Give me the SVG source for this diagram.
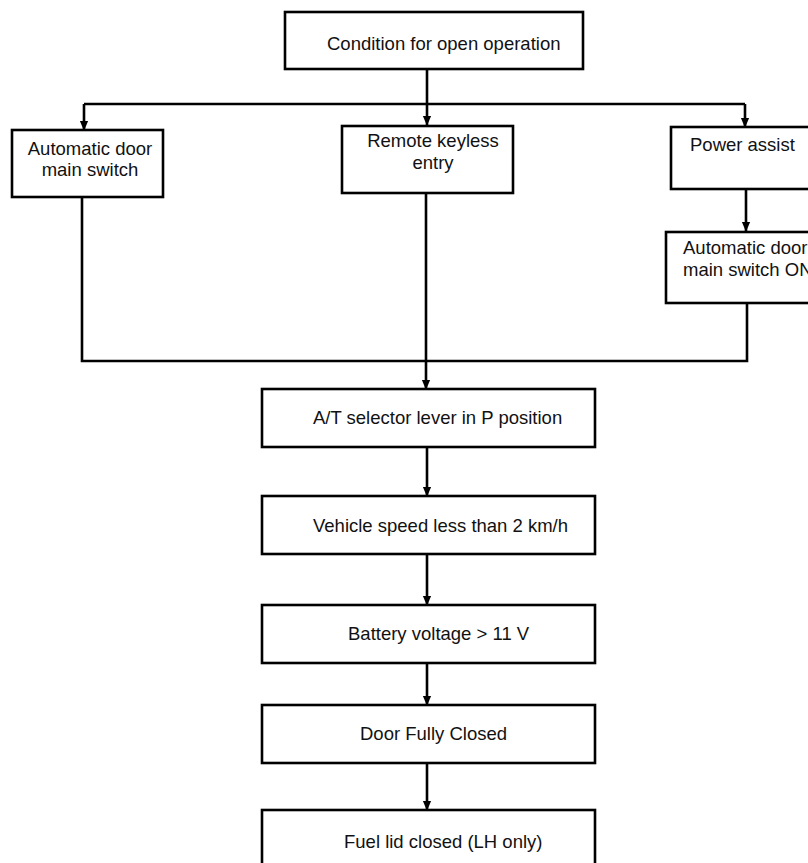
<svg xmlns="http://www.w3.org/2000/svg" width="808" height="863" viewBox="0 0 808 863">
<defs>
<style>
.box{fill:#fff;stroke:#000;stroke-width:2.6}
.t{font-family:"Liberation Sans",Arial,sans-serif;font-size:18.5px;fill:#111}
.c{fill:none;stroke:#000;stroke-width:2.6}
</style>
<marker id="ah" markerUnits="userSpaceOnUse" markerWidth="10" markerHeight="12" refX="5" refY="12" orient="auto-start-reverse" viewBox="0 0 10 12">
<path d="M0,0 L10,0 L5,12 Z" fill="#000" transform="rotate(0)"/>
</marker>
<marker id="arr" markerUnits="userSpaceOnUse" markerWidth="10" markerHeight="12" refX="11" refY="5" orient="auto" viewBox="0 0 12 10">
<path d="M0,0 L12,5 L0,10 Z" fill="#000"/>
</marker>
</defs>
<rect width="808" height="863" fill="#fff"/>
<g id="connectors">
<path class="c" d="M427,69 V125" marker-end="url(#arr)"/>
<path class="c" d="M84,104 H745"/>
<path class="c" d="M84,104 V130" marker-end="url(#arr)"/>
<path class="c" d="M745,104 V127" marker-end="url(#arr)"/>
<path class="c" d="M746,189 V231" marker-end="url(#arr)"/>
<path class="c" d="M82,197 V361 H747 V303"/>
<path class="c" d="M426,193 V389" marker-end="url(#arr)"/>
<path class="c" d="M427,447 V496" marker-end="url(#arr)"/>
<path class="c" d="M427,554 V605" marker-end="url(#arr)"/>
<path class="c" d="M427,663 V705" marker-end="url(#arr)"/>
<path class="c" d="M427,763 V810" marker-end="url(#arr)"/>
</g>
<g id="n-condition">
<rect class="box" x="285" y="12" width="298" height="57"/>
<text class="t" x="327" y="50">Condition for open operation</text>
</g>
<g id="n-auto-main">
<rect class="box" x="12" y="130" width="151" height="67"/>
<text class="t" x="90" y="155" text-anchor="middle">Automatic door</text>
<text class="t" x="90" y="176" text-anchor="middle">main switch</text>
</g>
<g id="n-remote">
<rect class="box" x="342" y="126" width="171" height="67"/>
<text class="t" x="433" y="147" text-anchor="middle">Remote keyless</text>
<text class="t" x="433" y="169" text-anchor="middle">entry</text>
</g>
<g id="n-power">
<rect class="box" x="671" y="127" width="150" height="62"/>
<text class="t" x="690" y="151">Power assist</text>
</g>
<g id="n-auto-on">
<rect class="box" x="666" y="232" width="155" height="71"/>
<text class="t" x="683" y="254">Automatic door</text>
<text class="t" x="683" y="276">main switch ON</text>
</g>
<g id="n-at">
<rect class="box" x="262" y="389" width="333" height="58"/>
<text class="t" x="313" y="424">A/T selector lever in P position</text>
</g>
<g id="n-speed">
<rect class="box" x="262" y="496" width="333" height="58"/>
<text class="t" x="313" y="532">Vehicle speed less than 2 km/h</text>
</g>
<g id="n-battery">
<rect class="box" x="262" y="605" width="333" height="58"/>
<text class="t" x="348" y="640">Battery voltage &gt; 11 V</text>
</g>
<g id="n-door">
<rect class="box" x="262" y="705" width="333" height="58"/>
<text class="t" x="360" y="740">Door Fully Closed</text>
</g>
<g id="n-fuel">
<rect class="box" x="262" y="810" width="333" height="70"/>
<text class="t" x="344" y="848">Fuel lid closed (LH only)</text>
</g>
</svg>
